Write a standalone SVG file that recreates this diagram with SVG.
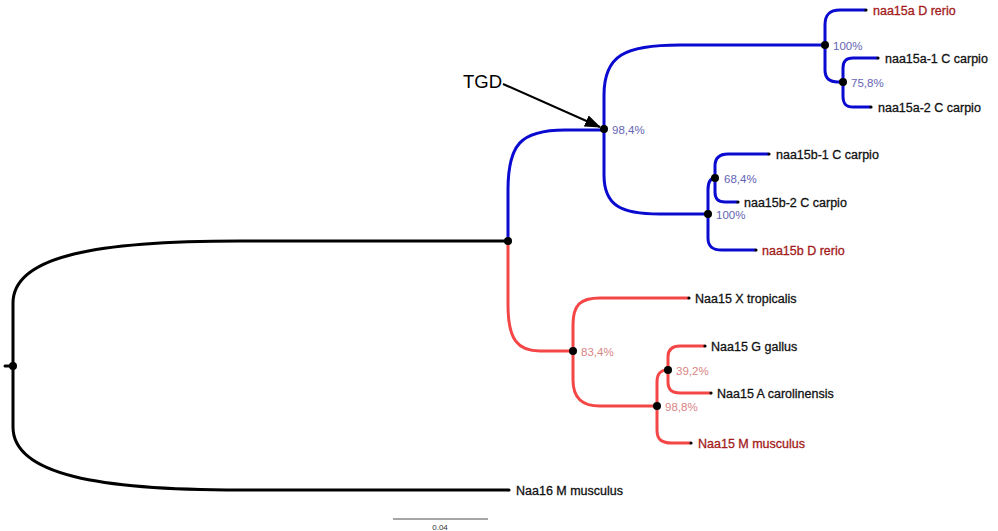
<svg xmlns="http://www.w3.org/2000/svg" width="998" height="531" viewBox="0 0 998 531">
<style>
.br{fill:none;stroke-width:3;stroke-linecap:round}
.k{stroke:#000}
.b{stroke:#0a0ad0}
.r{stroke:#f44646}
.nd{fill:#000}
.tip{font-family:"Liberation Sans",Arial,sans-serif;font-size:12.5px;fill:#111;stroke:#111;stroke-width:0.3}
.tipred{fill:#a31a1a;stroke:#a31a1a}
.sb{font-family:"Liberation Sans",Arial,sans-serif;font-size:11.5px;fill:#6464b4}
.sr{font-family:"Liberation Sans",Arial,sans-serif;font-size:11.5px;fill:#d98585}
</style>
<defs>
<marker id="ah2" viewBox="0 0 16 12" refX="15" refY="6" markerWidth="16" markerHeight="12" markerUnits="userSpaceOnUse" orient="auto">
<path d="M0,0 L16,6 L0,12 z" fill="#000"/>
</marker>
</defs>
<rect width="998" height="531" fill="#fff"/>
<g id="connectors">
<path class="br k" d="M5,366 H13"/>
<path class="br k" d="M13,366 V303 C13,255 100,241 240,241 H508"/>
<path class="br k" d="M13,366 V427 C13,475 100,490 240,490 H508"/>
<path class="br b" d="M508,241 V190 C508,145 520,130 565,130 H604"/>
<path class="br b" d="M604,129 V95 C604,55 625,45 680,45 H825"/>
<path class="br b" d="M604,129 V175 C604,205 620,214 660,214 H708"/>
<path class="br b" d="M825,45 V25 C825,14 830,10 840,10 H865"/>
<path class="br b" d="M825,45 V70 C825,79 830,82 838,82 H843"/>
<path class="br b" d="M843,82 V68 C843,61 846,58 853,58 H877"/>
<path class="br b" d="M843,82 V96 C843,104 846,107 853,107 H870"/>
<path class="br b" d="M708,214 V190 C708,182 710,178 715,178"/>
<path class="br b" d="M715,178 V166 C715,158 719,154 728,154 H768"/>
<path class="br b" d="M715,178 V192 C715,199 718,202 725,202 H737"/>
<path class="br b" d="M708,214 V238 C708,246 712,250 722,250 H755"/>
<path class="br r" d="M508,241 V305 C508,340 518,351 540,351 H573"/>
<path class="br r" d="M573,351 V325 C573,305 580,298 600,298 H688"/>
<path class="br r" d="M573,351 V380 C573,398 582,406 600,406 H657"/>
<path class="br r" d="M657,406 V382 C657,374 660,370 668,370"/>
<path class="br r" d="M668,370 V357 C668,350 672,346 680,346 H704"/>
<path class="br r" d="M668,370 V382 C668,390 672,393 680,393 H710"/>
<path class="br r" d="M657,406 V430 C657,440 662,443 672,443 H690"/>
<line x1="503" y1="84" x2="600" y2="127" stroke="#000" stroke-width="2" marker-end="url(#ah2)"/>
</g>
<g id="root"><circle class="nd" cx="13" cy="366" r="4"/></g>
<g id="n-split"><circle class="nd" cx="508" cy="241" r="4"/></g>
<g id="n-tgd"><circle class="nd" cx="604" cy="129" r="4"/><text class="sb" x="612" y="134">98,4%</text></g>
<g id="n-a"><circle class="nd" cx="825" cy="45" r="4"/><text class="sb" x="833" y="50">100%</text></g>
<g id="n-a2"><circle class="nd" cx="843" cy="82" r="4"/><text class="sb" x="851" y="87">75,8%</text></g>
<g id="n-b"><circle class="nd" cx="708" cy="214" r="4"/><text class="sb" x="716" y="219">100%</text></g>
<g id="n-b2"><circle class="nd" cx="715" cy="178" r="4"/><text class="sb" x="724" y="183">68,4%</text></g>
<g id="n-tetra"><circle class="nd" cx="573" cy="351" r="4"/><text class="sr" x="581" y="356">83,4%</text></g>
<g id="n-amn"><circle class="nd" cx="657" cy="406" r="4"/><text class="sr" x="665" y="411">98,8%</text></g>
<g id="n-sau"><circle class="nd" cx="668" cy="370" r="4"/><text class="sr" x="676" y="375">39,2%</text></g>
<g id="t-naa15a-dr"><circle class="nd" cx="866" cy="10" r="1.6"/><text class="tip tipred" x="873" y="14.5">naa15a D rerio</text></g>
<g id="t-naa15a1-cc"><circle class="nd" cx="878" cy="58" r="1.6"/><text class="tip" x="885" y="62.5">naa15a-1 C carpio</text></g>
<g id="t-naa15a2-cc"><circle class="nd" cx="871" cy="107" r="1.6"/><text class="tip" x="878" y="111.5">naa15a-2 C carpio</text></g>
<g id="t-naa15b1-cc"><circle class="nd" cx="769" cy="154" r="1.6"/><text class="tip" x="776" y="158.5">naa15b-1 C carpio</text></g>
<g id="t-naa15b2-cc"><circle class="nd" cx="738" cy="202" r="1.6"/><text class="tip" x="744" y="206.5">naa15b-2 C carpio</text></g>
<g id="t-naa15b-dr"><circle class="nd" cx="756" cy="250" r="1.6"/><text class="tip tipred" x="762" y="254.5">naa15b D rerio</text></g>
<g id="t-xt"><circle class="nd" cx="689" cy="298" r="1.6"/><text class="tip" x="695" y="302.5">Naa15 X tropicalis</text></g>
<g id="t-gg"><circle class="nd" cx="705" cy="346" r="1.6"/><text class="tip" x="711" y="350.5">Naa15 G gallus</text></g>
<g id="t-ac"><circle class="nd" cx="711" cy="393" r="1.6"/><text class="tip" x="717" y="397.5">Naa15 A carolinensis</text></g>
<g id="t-mm15"><circle class="nd" cx="691" cy="443" r="1.6"/><text class="tip tipred" x="698" y="447.5">Naa15 M musculus</text></g>
<g id="t-mm16"><circle class="nd" cx="509" cy="490" r="1.6"/><text class="tip" x="516" y="494.5">Naa16 M musculus</text></g>
<g id="tgd"><text x="463" y="88" font-family="Liberation Sans,Arial,sans-serif" font-size="18.5px" fill="#000">TGD</text></g>
<g id="scale">
<line x1="393" y1="519" x2="488" y2="519" stroke="#888" stroke-width="1.5"/>
<text x="440" y="529.5" font-family="Liberation Sans,Arial,sans-serif" font-size="8px" fill="#333" text-anchor="middle">0.04</text>
</g>
</svg>
